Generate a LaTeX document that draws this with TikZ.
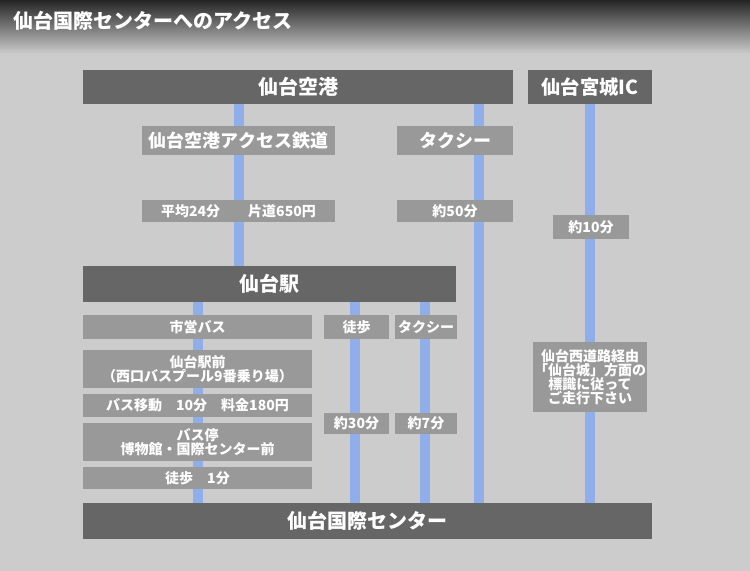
\documentclass[tikz,border=0pt]{standalone}
\usepackage{fontspec}
\usepackage{tikz}
\usetikzlibrary{backgrounds}

\newfontfamily\jpfont{Noto Sans CJK JP}
\newcommand{\titlefont}{\jpfont\bfseries\fontsize{15pt}{17pt}\selectfont}
\newcommand{\icfont}{\jpfont\bfseries\fontsize{14.5pt}{17pt}\selectfont}
\newcommand{\hubfont}{\jpfont\bfseries\fontsize{15pt}{18pt}\selectfont}
\newcommand{\modefont}{\jpfont\bfseries\fontsize{13.5pt}{16pt}\selectfont}
\newcommand{\infofont}{\jpfont\bfseries\fontsize{10.5pt}{10.5pt}\selectfont}

\definecolor{bggray}{HTML}{CCCCCC}
\definecolor{hubgray}{HTML}{666666}
\definecolor{boxgray}{HTML}{999999}
\definecolor{routeblue}{HTML}{8FAEEA}

\begin{document}
\begin{tikzpicture}[x=0.75pt,y=0.75pt,yscale=-1,xscale=1,
	boxsize/.style 2 args={minimum width=#1*0.75pt, minimum height=#2*0.75pt},
	hub/.style={fill=hubgray, text=white, inner sep=0pt, font=\hubfont},
	mode/.style={fill=boxgray, text=white, inner sep=0pt, font=\modefont},
	info/.style={fill=boxgray, text=white, inner sep=0pt, align=center, font=\infofont},
	route/.style={draw=routeblue, line width=7.5pt}]
	\useasboundingbox (0,0) rectangle (750,571);
	
	% Title
	\node [anchor=west, text=white, inner sep=0pt, font=\titlefont] (title) at (13,21) {仙台国際センターへのアクセス};
	
	% Starting points
	\node [hub, boxsize={430}{34}] (airport) at (298,87) {仙台空港};
	\node [hub, boxsize={124}{34}, font=\icfont] (ic) at (590,87) {仙台宮城IC};
	
	% From the airport
	\node [mode, boxsize={193}{29}] (rail) at (238.5,140.5) {仙台空港アクセス鉄道};
	\node [mode, boxsize={116}{29}] (taxiAir) at (455,140.5) {タクシー};
	\node [info, boxsize={193}{22}] (railFare) at (238.5,211) {平均24分　　片道650円};
	\node [info, boxsize={116}{22}] (taxiAirTime) at (455,211) {約50分};
	\coordinate (taxiLine) at (479,0);
	
	% From the IC
	\node [info, boxsize={76}{24}] (icTime) at (591,227) {約10分};
	\node [info, boxsize={114}{70}] (icRoute) at (590,377) {仙台西道路経由\\「仙台城」方面の\\標識に従って\\ご走行下さい};
	
	% Sendai station
	\node [hub, boxsize={373}{36}] (station) at (269.5,284) {仙台駅};
	\node [info, boxsize={229}{24}] (bus) at (197.5,327) {市営バス};
	\node [info, boxsize={65}{24}] (walk) at (356.5,327) {徒歩};
	\node [info, boxsize={62}{24}] (taxiStn) at (426,327) {タクシー};
	\node [info, boxsize={229}{38}] (busStart) at (197.5,369) {仙台駅前\\（西口バスプール9番乗り場）};
	\node [info, boxsize={229}{23}] (busRide) at (197.5,405.5) {バス移動　10分　料金180円};
	\node [info, boxsize={229}{38}] (busStop) at (197.5,442) {バス停\\博物館・国際センター前};
	\node [info, boxsize={229}{22}] (walkEnd) at (197.5,478) {徒歩　1分};
	\node [info, boxsize={65}{21}] (walkTime) at (356.5,423.5) {約30分};
	\node [info, boxsize={62}{21}] (taxiStnTime) at (426,423.5) {約7分};
	\coordinate (walkLine) at (355,0);
	\coordinate (taxiStnLine) at (425,0);
	
	% Goal
	\node [hub, boxsize={569}{36}] (centre) at (367.5,521) {仙台国際センター};
	
	\begin{scope}[on background layer]
		% Background and header
		\fill [bggray] (0,0) rectangle (750,571);
		\shade [top color=black, bottom color=bggray] (0,-12) rectangle (750,54);
		% Routes
		\draw [route] (airport.south -| rail) -- (station.north -| rail);
		\draw [route] (airport.south -| taxiLine) -- (centre.north -| taxiLine);
		\draw [route] (ic.south) -- (centre.north -| ic);
		\draw [route] (station.south -| bus) -- (centre.north -| bus);
		\draw [route] (station.south -| walkLine) -- (centre.north -| walkLine);
		\draw [route] (station.south -| taxiStnLine) -- (centre.north -| taxiStnLine);
	\end{scope}
	
\end{tikzpicture}
\end{document}
